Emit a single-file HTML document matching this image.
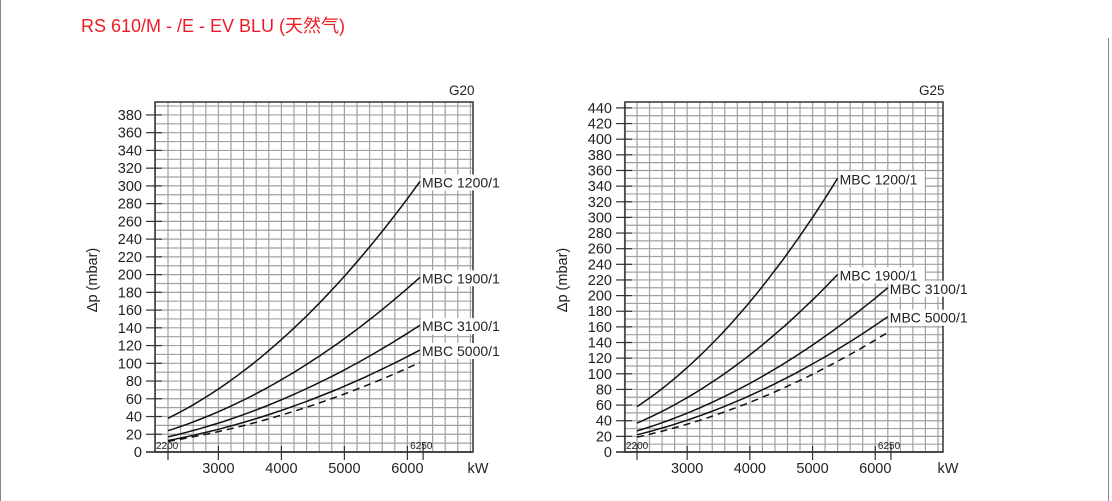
<!DOCTYPE html>
<html><head><meta charset="utf-8"><style>
html,body{margin:0;padding:0;background:#fff;width:1112px;height:501px;overflow:hidden}
</style></head><body>
<svg id="s" width="1112" height="501" xmlns="http://www.w3.org/2000/svg" font-family="Liberation Sans, sans-serif">
<line x1="0.5" y1="0" x2="0.5" y2="501" stroke="#888" stroke-width="1"/>
<line x1="1108.5" y1="38" x2="1108.5" y2="501" stroke="#888" stroke-width="1"/>
<text x="81" y="32" font-size="18" fill="#ee1c25" font-family="Liberation Sans, Noto Sans CJK SC, sans-serif">RS 610/M - /E - EV BLU (天然气)</text>
</svg>
<script>
const s=document.getElementById('s');const NS='http://www.w3.org/2000/svg';
function el(t,a,txt){const e=document.createElementNS(NS,t);for(const k in a)e.setAttribute(k,a[k]);if(txt!==undefined)e.textContent=txt;s.appendChild(e);return e;}
function chart(o){
 const X=q=>o.x2200+(q-2200)*o.pk/1000, Y=p=>452-p*o.pp;
 for(let q=2000;;q+=200){const x=X(q);if(x>o.R)break;el('line',{x1:x,y1:o.T,x2:x,y2:452,stroke:'#a0a0a0','stroke-width':1.2});}
 for(let p=0;;p+=10){const y=Y(p);if(y<o.T)break;el('line',{x1:o.L,y1:y,x2:o.R,y2:y,stroke:'#a0a0a0','stroke-width':1.2});}
 el('rect',{x:o.L,y:o.T,width:o.R-o.L,height:452-o.T,fill:'none',stroke:'#333','stroke-width':1.5});
 el('line',{x1:o.L-9,y1:452,x2:o.R,y2:452,stroke:'#333','stroke-width':1.5});
 for(let p=0;p<=o.pmax;p+=20){const y=Y(p);el('line',{x1:o.L-9,y1:y,x2:o.L+7,y2:y,stroke:'#333','stroke-width':1.2});
  el('text',{x:o.L-13,y:y+5,'font-size':14.5,'text-anchor':'end',fill:'#222'},p);}
 for(const q of [2200,3000,4000,5000,6000,6250]){const x=X(q);el('line',{x1:x,y1:(q==2200||q==6250)?444:446,x2:x,y2:460,stroke:'#333','stroke-width':1.2});}
 for(const q of [3000,4000,5000,6000])el('text',{x:X(q),y:473,'font-size':14.5,'text-anchor':'middle',fill:'#222'},q);
 el('text',{x:o.R+5,y:473,'font-size':14.5,'text-anchor':'middle',fill:'#222'},'kW');
 el('text',{x:o.L+1,y:449,'font-size':10,fill:'#222'},'2200');
 el('text',{x:X(6250)-13,y:449,'font-size':10,fill:'#222'},'6250');
 el('text',{x:o.R-24,y:95,'font-size':13.5,fill:'#222'},o.g);
 el('text',{x:0,y:0,'font-size':14.5,fill:'#222',transform:`translate(${o.L-58},${o.ly}) rotate(-90)`,'text-anchor':'middle'},'Δp (mbar)');
 for(const c of o.curves){
  const [p0,p1,q1]=c;const a=(p1-p0)/(q1*q1-2.2*2.2);const b=p0-a*2.2*2.2;
  let d='';for(let i=0;i<=40;i++){const q=2.2+(q1-2.2)*i/40;d+=(i?'L':'M')+X(q*1000).toFixed(1)+','+Y(a*q*q+b).toFixed(1);}
  el('path',{d:d,fill:'none',stroke:'#111','stroke-width':1.5,'stroke-dasharray':c[3]?'7,5':'none'});
  if(!c[3]){const tx=X(q1*1000),ty=Y(p1);
   el('rect',{x:tx+1,y:ty-7,width:86,height:16,fill:'#fff'});
   el('text',{x:tx+2,y:ty+6,'font-size':14,fill:'#222'},c[4]);}
 }
}
chart({L:155,R:473,T:102,x2200:168,pk:63,pp:17.74/20,pmax:380,g:'G20',ly:280,
 curves:[[38,305,6.2,0,'MBC 1200/1'],[24,197,6.2,0,'MBC 1900/1'],[17,143,6.2,0,'MBC 3100/1'],[13,115,6.2,0,'MBC 5000/1'],[12,101,6.2,1]]});
chart({L:625,R:943,T:102,x2200:637,pk:62.7,pp:15.64/20,pmax:440,g:'G25',ly:280,
 curves:[[58,350,5.4,0,'MBC 1200/1'],[37,227,5.4,0,'MBC 1900/1'],[27,210,6.2,0,'MBC 3100/1'],[22,173,6.2,0,'MBC 5000/1'],[19,153,6.2,1]]});
</script>
</body></html>
